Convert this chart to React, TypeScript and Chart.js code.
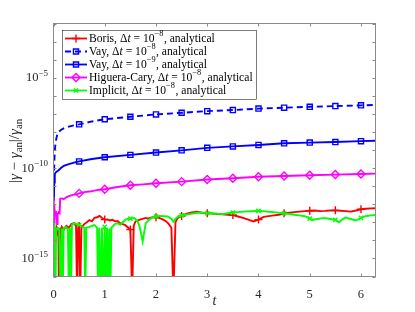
import React, { useEffect, useRef } from "react";
import { Chart, registerables } from "chart.js";

Chart.register(...registerables);

// ---------- data ----------
const X_MAX = 6.283185307;
const xTickValues = [0, 1, 2, 3, 4, 5, 6];
const yDecades = [-16, -15, -14, -13, -12, -11, -10, -9, -8, -7, -6, -5, -4, -3, -2];
const yLabelExps = [-5, -10, -15];
const yTickLabels = ["10⁻⁵", "10⁻¹⁰", "10⁻¹⁵"];
const markerTimes = [0.5, 1, 1.5, 2, 2.5, 3, 3.5, 4, 4.5, 5, 5.5, 6];

const seriesLabels = [
  "Boris, Δt = 10⁻⁸, analytical",
  "Vay, Δt = 10⁻⁸, analytical",
  "Vay, Δt = 10⁻⁹, analytical",
  "Higuera-Cary, Δt = 10⁻⁸, analytical",
  "Implicit, Δt = 10⁻⁸, analytical",
];

// [t, log10(relative error)]
const borisPts = [
  [0.015, -14.8], [0.03, -13.5], [0.045, -13.7], [0.06, -13.35], [0.08, -13.6], [0.095, -13.3],
  [0.105, -17], [0.115, -13.5], [0.125, -17], [0.135, -13.45], [0.16, -13.25], [0.2, -13.4],
  [0.25, -13.2], [0.3, -13.3], [0.35, -13.1], [0.4, -13.05], [0.44, -13.2], [0.46, -17],
  [0.48, -13.3], [0.5, -13.2], [0.52, -17], [0.545, -13.3], [0.6, -13.1], [0.65, -13.0],
  [0.7, -12.88], [0.75, -12.95], [0.8, -12.75], [0.85, -12.72], [0.9, -12.65], [0.95, -12.76],
  [1.0, -12.85], [1.05, -12.84], [1.1, -12.9], [1.15, -12.86], [1.2, -12.95], [1.25, -12.93],
  [1.3, -13.05], [1.35, -13.1], [1.4, -13.16], [1.45, -13.28], [1.5, -13.4], [1.535, -17],
  [1.565, -13.2], [1.6, -12.95], [1.65, -12.9], [1.7, -12.84], [1.75, -12.8], [1.8, -12.76],
  [1.85, -12.8], [1.9, -12.74], [1.95, -12.72], [2.0, -12.72], [2.05, -12.76], [2.1, -12.8],
  [2.15, -12.87], [2.2, -12.95], [2.25, -13.1], [2.3, -13.3], [2.34, -17], [2.38, -13.0],
  [2.42, -12.77], [2.5, -12.65], [2.6, -12.52], [2.7, -12.45], [2.8, -12.42], [2.9, -12.47],
  [3.0, -12.5], [3.1, -12.52], [3.2, -12.55], [3.3, -12.56], [3.4, -12.58], [3.5, -12.6],
  [3.6, -12.68], [3.7, -12.76], [3.8, -12.85], [3.9, -12.95], [4.0, -12.85], [4.1, -12.7],
  [4.2, -12.66], [4.3, -12.62], [4.4, -12.58], [4.5, -12.5], [4.6, -12.47], [4.7, -12.44],
  [4.8, -12.41], [4.9, -12.38], [5.0, -12.36], [5.1, -12.35], [5.2, -12.38], [5.3, -12.37],
  [5.4, -12.35], [5.5, -12.34], [5.6, -12.36], [5.7, -12.38], [5.8, -12.41], [5.9, -12.35],
  [6.0, -12.28], [6.1, -12.25], [6.2, -12.23], [6.283, -12.22],
];

const vay8Pts = [
  [0.005, -11.8], [0.01, -10.5], [0.015, -9.8], [0.02, -9.4], [0.03, -8.9], [0.04, -8.6],
  [0.06, -8.3], [0.08, -8.1], [0.1, -8.0], [0.15, -7.88], [0.2, -7.8], [0.3, -7.71],
  [0.4, -7.63], [0.5, -7.58], [0.75, -7.42], [1.0, -7.3], [1.5, -7.16], [2.0, -7.03],
  [2.5, -6.94], [3.0, -6.85], [3.5, -6.79], [4.0, -6.71], [4.5, -6.66], [5.0, -6.61],
  [5.5, -6.57], [6.0, -6.53], [6.283, -6.51],
];

const vay9Pts = [
  [0.008, -11.8], [0.015, -10.8], [0.025, -10.35], [0.04, -10.25], [0.06, -10.2], [0.1, -10.12],
  [0.15, -9.98], [0.2, -9.88], [0.3, -9.78], [0.4, -9.7], [0.5, -9.63], [0.75, -9.5],
  [1.0, -9.4], [1.5, -9.27], [2.0, -9.14], [2.5, -9.02], [3.0, -8.88], [3.5, -8.8],
  [4.0, -8.72], [4.5, -8.63], [5.0, -8.59], [5.5, -8.56], [6.0, -8.51], [6.283, -8.49],
];

const hcPts = [
  [0.003, -11.6], [0.006, -13.3], [0.01, -12.0], [0.015, -13.5], [0.02, -12.2], [0.03, -12.5],
  [0.05, -12.45], [0.07, -13.1], [0.08, -12.55], [0.1, -12.45], [0.12, -12.5], [0.13, -11.7],
  [0.17, -11.68], [0.2, -11.72], [0.25, -11.62], [0.3, -11.55], [0.38, -11.48], [0.45, -11.45],
  [0.5, -11.4], [0.6, -11.33], [0.7, -11.3], [0.8, -11.25], [0.9, -11.2], [1.0, -11.17],
  [1.25, -11.05], [1.5, -10.95], [1.75, -10.9], [2.0, -10.84], [2.5, -10.75], [3.0, -10.63],
  [3.5, -10.56], [4.0, -10.48], [4.5, -10.44], [5.0, -10.4], [5.5, -10.36], [6.0, -10.33],
  [6.283, -10.31],
];

const implicitPts = [
  [0.005, -13.4], [0.015, -13.3], [0.022, -17], [0.03, -13.3], [0.04, -17], [0.05, -13.5],
  [0.08, -13.3], [0.11, -13.4], [0.14, -17], [0.16, -13.35], [0.18, -17], [0.2, -13.3],
  [0.24, -13.25], [0.28, -13.4], [0.3, -17], [0.32, -13.3], [0.34, -17], [0.36, -13.15],
  [0.4, -13.05], [0.45, -13.1], [0.5, -13.15], [0.55, -13.22], [0.6, -13.3], [0.62, -17],
  [0.64, -13.3], [0.7, -13.25], [0.75, -13.2], [0.8, -13.15], [0.85, -13.3], [0.87, -17],
  [0.89, -13.3], [0.92, -17], [0.945, -13.3], [0.97, -17], [1.0, -13.25], [1.02, -17],
  [1.045, -13.3], [1.07, -17], [1.09, -13.35], [1.11, -17], [1.13, -13.3], [1.2, -13.1],
  [1.25, -13.05], [1.3, -13.14], [1.35, -13.0], [1.42, -12.83], [1.5, -12.8], [1.58, -12.77],
  [1.64, -12.95], [1.68, -13.24], [1.74, -14.06], [1.8, -13.05], [1.87, -12.85], [1.94, -12.72],
  [2.0, -12.68], [2.07, -12.65], [2.15, -12.66], [2.23, -12.68], [2.3, -12.8], [2.34, -12.96],
  [2.4, -12.75], [2.46, -12.65], [2.5, -12.62], [2.55, -12.6], [2.65, -12.55], [2.75, -12.5],
  [2.85, -12.46], [2.95, -12.48], [3.0, -12.5], [3.1, -12.5], [3.2, -12.53], [3.3, -12.55],
  [3.4, -12.5], [3.5, -12.46], [3.6, -12.44], [3.72, -12.41], [3.85, -12.39], [4.0, -12.37],
  [4.1, -12.38], [4.2, -12.42], [4.3, -12.44], [4.4, -12.48], [4.5, -12.5], [4.6, -12.54],
  [4.7, -12.58], [4.8, -12.62], [4.92, -12.68], [5.0, -12.8], [5.05, -12.87], [5.15, -12.82],
  [5.25, -12.77], [5.31, -12.77], [5.4, -12.82], [5.5, -12.87], [5.57, -13.0], [5.63, -12.85],
  [5.7, -12.74], [5.8, -12.82], [5.9, -12.9], [6.0, -12.75], [6.1, -12.65], [6.2, -12.62],
  [6.283, -12.59],
];

const seriesPoints = [borisPts, vay8Pts, vay9Pts, hcPts, implicitPts];

// ---------- styles ----------
const SERIF = '"Liberation Serif", "DejaVu Serif", serif';
const TEXT_COLOR = "#262626";
const AXIS_COLOR = "#8a8a8a";
const seriesStyles = [
  { color: "#ff0000", marker: "cross", r: 4, dash: [] as number[], order: 5 },
  { color: "#0000ff", marker: "rect", r: 3.6, dash: [6, 4], order: 4 },
  { color: "#0000ff", marker: "rect", r: 3.6, dash: [] as number[], order: 3 },
  { color: "#ff00ff", marker: "rectRot", r: 4, dash: [] as number[], order: 2 },
  { color: "#00ff00", marker: "crossRot", r: 3, dash: [] as number[], order: 1 },
];

// ---------- rich text helpers ----------
type Seg = { s: string; it?: boolean; sup?: boolean; sub?: boolean };
const SUP: Record<string, string> = {
  "⁻": "−", "⁰": "0", "¹": "1", "²": "2", "³": "3", "⁴": "4", "⁵": "5", "⁶": "6", "⁷": "7", "⁸": "8", "⁹": "9",
};
const SUB: Record<string, string> = { "ₐ": "a", "ₙ": "n" };

function parseRich(str: string): Seg[] {
  const segs: Seg[] = [];
  const push = (ch: string, kind: "n" | "it" | "sup" | "sub") => {
    const last = segs[segs.length - 1];
    const k = (s: Seg) => (s.it ? "it" : s.sup ? "sup" : s.sub ? "sub" : "n");
    if (last && k(last) === kind) last.s += ch;
    else segs.push({ s: ch, it: kind === "it", sup: kind === "sup", sub: kind === "sub" });
  };
  for (let i = 0; i < str.length; i++) {
    const c = str[i];
    if (SUP[c]) push(SUP[c], "sup");
    else if (SUB[c]) push(SUB[c], "sub");
    else if (c === "γ" || (c === "t" && str[i - 1] === "Δ")) push(c, "it");
    else push(c, "n");
  }
  return segs;
}

function segFont(seg: Seg, size: number) {
  const s = seg.sup || seg.sub ? size * 0.72 : size;
  return `${seg.it ? "italic " : ""}${s}px ${SERIF}`;
}

function measureRich(ctx: CanvasRenderingContext2D, segs: Seg[], size: number) {
  let w = 0;
  for (const seg of segs) {
    ctx.font = segFont(seg, size);
    w += ctx.measureText(seg.s).width;
  }
  return w;
}

function drawRich(ctx: CanvasRenderingContext2D, segs: Seg[], x: number, y: number, size: number, align: "left" | "right" | "center") {
  const w = measureRich(ctx, segs, size);
  let cx = align === "left" ? x : align === "right" ? x - w : x - w / 2;
  ctx.textAlign = "left";
  ctx.textBaseline = "middle";
  for (const seg of segs) {
    ctx.font = segFont(seg, size);
    const dy = seg.sup ? -size * 0.38 : seg.sub ? size * 0.25 : 0;
    ctx.fillText(seg.s, cx, y + dy);
    cx += ctx.measureText(seg.s).width + (seg.sup ? 0.5 : 0);
  }
}

function drawMarker(ctx: CanvasRenderingContext2D, kind: string, x: number, y: number, r: number) {
  ctx.beginPath();
  if (kind === "cross") {
    ctx.moveTo(x - r, y); ctx.lineTo(x + r, y); ctx.moveTo(x, y - r); ctx.lineTo(x, y + r);
  } else if (kind === "crossRot") {
    const d = r * Math.SQRT1_2;
    ctx.moveTo(x - d, y - d); ctx.lineTo(x + d, y + d); ctx.moveTo(x + d, y - d); ctx.lineTo(x - d, y + d);
  } else if (kind === "rect") {
    const s = r * Math.SQRT1_2;
    ctx.rect(x - s, y - s, 2 * s, 2 * s);
  } else if (kind === "rectRot") {
    ctx.moveTo(x, y - r); ctx.lineTo(x + r, y); ctx.lineTo(x, y + r); ctx.lineTo(x - r, y); ctx.closePath();
  }
  ctx.stroke();
}

const yTitle = "|γ − γₐₙ|/γₐₙ";

const decorPlugin = {
  id: "matlabDecor",
  afterDatasetsDraw(chart: any) {
    const ctx: CanvasRenderingContext2D = chart.ctx;
    const ca = chart.chartArea;
    const xs = chart.scales.x;
    const ys = chart.scales.y;
    ctx.save();
    // box
    ctx.strokeStyle = AXIS_COLOR;
    ctx.lineWidth = 1;
    ctx.setLineDash([]);
    ctx.strokeRect(ca.left, ca.top, ca.right - ca.left, ca.bottom - ca.top);
    // inward ticks
    ctx.beginPath();
    const tl = 3;
    for (const v of xTickValues) {
      const px = Math.round(xs.getPixelForValue(v)) + 0.5;
      ctx.moveTo(px, ca.bottom); ctx.lineTo(px, ca.bottom - tl);
      ctx.moveTo(px, ca.top); ctx.lineTo(px, ca.top + tl);
    }
    for (const e of yDecades) {
      const py = Math.round(ys.getPixelForValue(Math.pow(10, e))) + 0.5;
      ctx.moveTo(ca.left, py); ctx.lineTo(ca.left + tl, py);
      ctx.moveTo(ca.right, py); ctx.lineTo(ca.right - tl, py);
    }
    ctx.stroke();
    // y tick labels
    ctx.fillStyle = TEXT_COLOR;
    yLabelExps.forEach((e, i) => {
      const py = ys.getPixelForValue(Math.pow(10, e));
      drawRich(ctx, parseRich(yTickLabels[i]), ca.left - 5.5, py + 0.5, 12.5, "right");
    });
    // y title
    ctx.save();
    ctx.translate(15.5, (ca.top + ca.bottom) / 2 + 1);
    ctx.rotate(-Math.PI / 2);
    drawRich(ctx, parseRich(yTitle), 0, 0, 15, "center");
    ctx.restore();

    // legend
    const dss = chart.data.datasets;
    const fs = 11.6;
    const bx = ca.left + 8;
    const by = ca.top + 6.5;
    const rowH = 13;
    let maxW = 0;
    const parsed = dss.map((d: any) => parseRich(d.label));
    parsed.forEach((p: Seg[]) => { maxW = Math.max(maxW, measureRich(ctx, p, fs)); });
    const textX = bx + 27.5;
    const bw = textX - bx + maxW + 3;
    const bh = rowH * (dss.length - 1) + 16.5;
    ctx.fillStyle = "#ffffff";
    ctx.fillRect(bx, by, bw, bh);
    ctx.strokeStyle = "#262626";
    ctx.lineWidth = 0.6;
    ctx.strokeRect(Math.round(bx) + 0.5, Math.round(by) + 0.5, Math.round(bw), Math.round(bh));
    dss.forEach((d: any, i: number) => {
      const cy = by + 8.5 + i * rowH;
      const st = seriesStyles[i];
      ctx.strokeStyle = st.color;
      ctx.lineWidth = 1.8;
      ctx.setLineDash(st.dash);
      ctx.beginPath();
      ctx.moveTo(bx + 3.5, cy); ctx.lineTo(bx + 25.5, cy);
      ctx.stroke();
      ctx.setLineDash([]);
      ctx.lineWidth = 1.4;
      drawMarker(ctx, st.marker, bx + 14.5, cy, st.r);
      ctx.fillStyle = "#000000";
      drawRich(ctx, parsed[i], textX, cy, fs, "left");
    });
    ctx.restore();
  },
};

const isMarker = (x: number) => markerTimes.some((m) => Math.abs(m - x) < 1e-9);

export default function App() {
  const ref = useRef<HTMLCanvasElement>(null);
  useEffect(() => {
    if (!ref.current) return;
    const datasets = seriesPoints.map((pts, i) => {
      const st = seriesStyles[i];
      return {
        label: seriesLabels[i],
        data: pts.map(([t, lg]) => ({ x: t, y: Math.pow(10, lg) })),
        borderColor: st.color,
        backgroundColor: st.color,
        borderWidth: 1.9,
        borderDash: st.dash,
        pointStyle: st.marker,
        pointRadius: (c: any) => (c.raw && isMarker(c.raw.x) ? st.r : 0),
        pointHoverRadius: 0,
        pointBorderColor: st.color,
        pointBackgroundColor: "rgba(0,0,0,0)",
        pointBorderWidth: 1.4,
        tension: 0,
        fill: false,
        order: st.order,
      };
    });
    const chart = new Chart(ref.current, {
      type: "line",
      data: { datasets },
      options: {
        responsive: false,
        animation: false,
        events: [],
        layout: { padding: { left: 0, right: 39.5, top: 23.5, bottom: 0 } },
        plugins: { legend: { display: false }, tooltip: { enabled: false }, title: { display: false } },
        scales: {
          x: {
            type: "linear",
            min: 0,
            max: X_MAX,
            grid: { display: false },
            border: { display: false },
            afterBuildTicks: (s: any) => { s.ticks = xTickValues.map((v) => ({ value: v })); },
            afterFit: (s: any) => { s.height = 35.5; },
            ticks: {
              autoSkip: false,
              maxRotation: 0,
              padding: 3,
              color: TEXT_COLOR,
              font: { family: SERIF, size: 12.5 },
              callback: (v: any) => String(v),
            },
            title: {
              display: true,
              text: "t",
              color: TEXT_COLOR,
              font: { family: SERIF, size: 14, style: "italic" },
              padding: { top: 0, bottom: 2 },
            },
          },
          y: {
            type: "logarithmic",
            min: 1e-16,
            max: 1e-2,
            grid: { display: false },
            border: { display: false },
            afterBuildTicks: (s: any) => { s.ticks = yDecades.map((e) => ({ value: Math.pow(10, e) })); },
            afterFit: (s: any) => { s.width = 53.5; },
            ticks: { display: false },
          },
        },
      },
      plugins: [decorPlugin],
    } as any);
    return () => chart.destroy();
  }, []);
  return (
    <div style={{ position: "fixed", left: 0, top: 0, width: 415, height: 312, background: "#ffffff" }}>
      <canvas ref={ref} width={415} height={312} style={{ display: "block", width: 415, height: 312 }} />
    </div>
  );
}
